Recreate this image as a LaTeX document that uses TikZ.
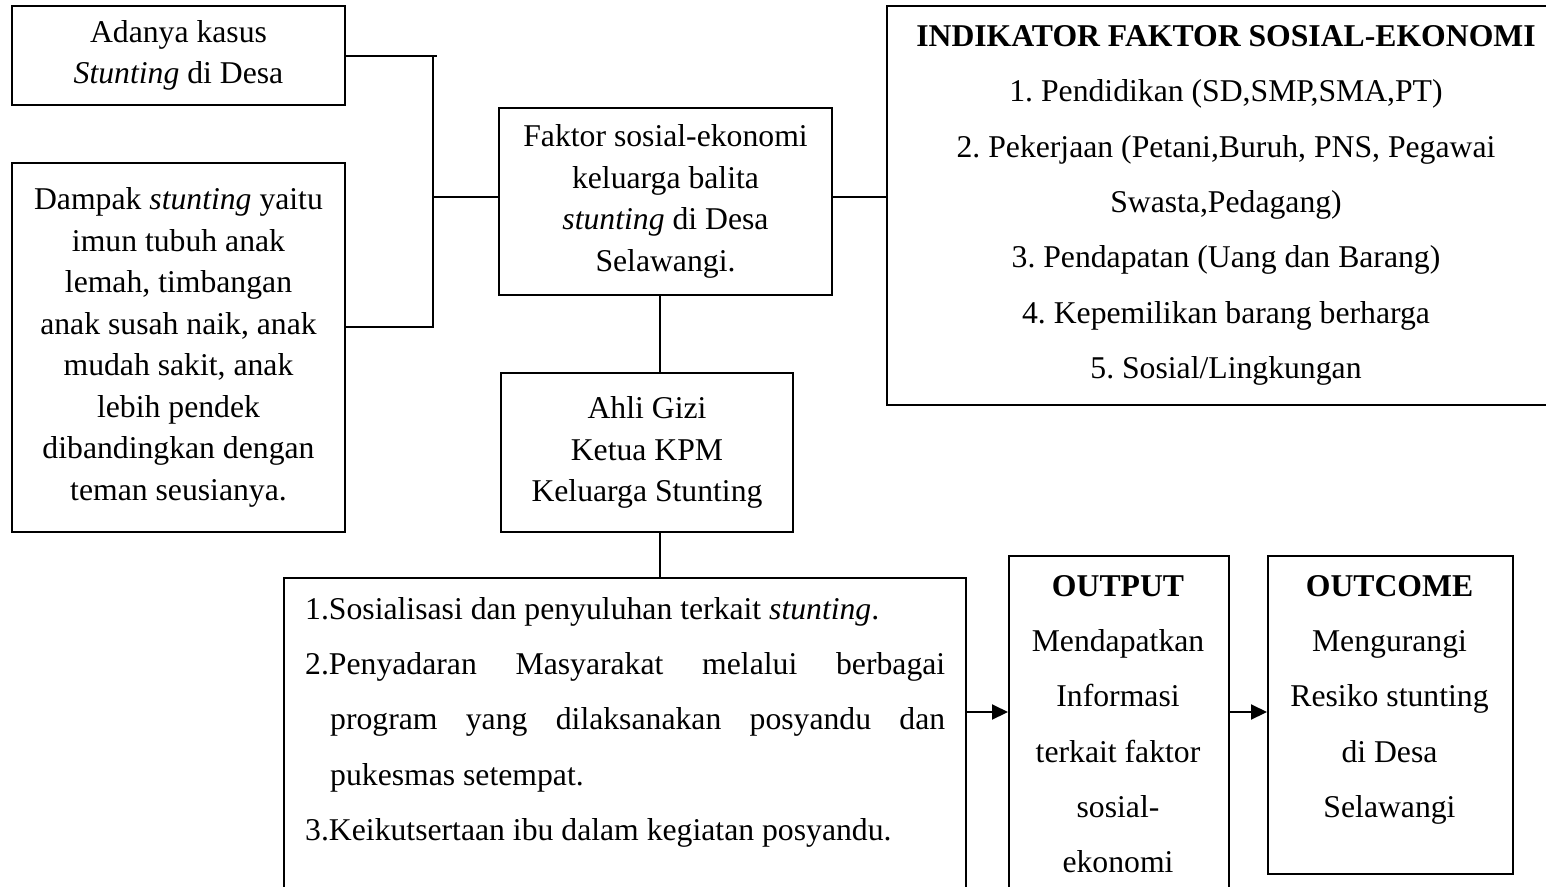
\documentclass[tikz,border=0pt]{standalone}
\usepackage{fontspec}
\setmainfont{Liberation Serif}
\usetikzlibrary{arrows.meta}
\frenchspacing

\tikzset{
  box/.style={draw, line width=2pt, inner sep=0pt, align=center},
  link/.style={line width=2pt},
  arr/.style={line width=2pt, -{Triangle[length=16pt,width=15pt]}}
}
\newcommand{\tightfont}{\fontsize{31.7}{41.5}\selectfont}
\newcommand{\loosefont}{\fontsize{31.7}{55.3}\selectfont}

\begin{document}
\begin{tikzpicture}[x=1pt, y=-1pt]
\path[use as bounding box, clip] (0,0) rectangle (1546,886);

% left column
\node[box, font=\tightfont, minimum width=333pt, minimum height=99pt] (adanya) at (178.5,55.5) {Adanya kasus\\\textit{Stunting} di Desa};

\node[box, font=\tightfont, minimum width=333pt, minimum height=369pt] (dampak) at (178.5,347.5) {Dampak \textit{stunting} yaitu\\imun tubuh anak\\lemah, timbangan\\anak susah naik, anak\\mudah sakit, anak\\lebih pendek\\dibandingkan dengan\\teman seusianya.};

% middle column
\node[box, font=\tightfont, minimum width=333pt, minimum height=187pt] (faktor) at (665.5,201.5) {Faktor sosial-ekonomi\\keluarga balita\\\textit{stunting} di Desa\\Selawangi.};

\node[box, font=\tightfont, minimum width=292pt, minimum height=159pt] (ahli) at (647,452.5) {Ahli Gizi\\Ketua KPM\\Keluarga Stunting};

% indikator
\node[box, font=\loosefont, minimum width=678pt, minimum height=399pt] (indikator) at (1226,205.5) {\textbf{INDIKATOR FAKTOR SOSIAL-EKONOMI}\\1. Pendidikan (SD,SMP,SMA,PT)\\2. Pekerjaan (Petani,Buruh, PNS, Pegawai\\Swasta,Pedagang)\\3. Pendapatan (Uang dan Barang)\\4. Kepemilikan barang berharga\\5. Sosial/Lingkungan};

% bottom row
\node[box, minimum width=682pt, minimum height=360pt, anchor=north west] (kegiatan) at (283,577) {};
\node[font=\loosefont, text width=640pt, align=justify, inner sep=0pt, anchor=north west] (kegiatantxt) at (305,597) {1.Sosialisasi dan penyuluhan terkait \textit{stunting}.\par
\hangindent=25pt\hangafter=1 2.Penyadaran Masyarakat melalui berbagai\linebreak program yang dilaksanakan posyandu dan\linebreak pukesmas setempat.\par
3.Keikutsertaan ibu dalam kegiatan posyandu.};

\node[box, minimum width=220pt, minimum height=360pt, anchor=north west] (output) at (1008,555) {};
\node[font=\loosefont, align=center, inner sep=0pt, anchor=north] (outputtxt) at (1118,575) {\textbf{OUTPUT}\\Mendapatkan\\Informasi\\terkait faktor\\sosial-\\ekonomi};

\node[box, minimum width=245pt, minimum height=318pt, anchor=north west] (outcome) at (1267,555) {};
\node[font=\loosefont, align=center, inner sep=0pt, anchor=north] (outcometxt) at (1389.5,575) {\textbf{OUTCOME}\\Mengurangi\\Resiko stunting\\di Desa\\Selawangi};

% connectors
\coordinate (bjoin) at (433,327);
\coordinate (mid) at (433,197);
\coordinate (spine) at (660,0);
\coordinate (flow) at (0,712);
\draw[link] (adanya.east) -- ([xshift=4pt]adanya.east -| bjoin);
\draw[link] (adanya.east -| bjoin) -- (bjoin) -- (dampak.east |- bjoin);
\draw[link] (faktor.west |- mid) -- (mid);
\draw[link] (faktor.east |- mid) -- (indikator.west |- mid);
\draw[link] (faktor.south -| spine) -- (ahli.north -| spine);
\draw[link] (ahli.south -| spine) -- (kegiatan.north -| spine);
\draw[arr] (kegiatan.east |- flow) -- (output.west |- flow);
\draw[arr] (output.east |- flow) -- (outcome.west |- flow);
\end{tikzpicture}
\end{document}
